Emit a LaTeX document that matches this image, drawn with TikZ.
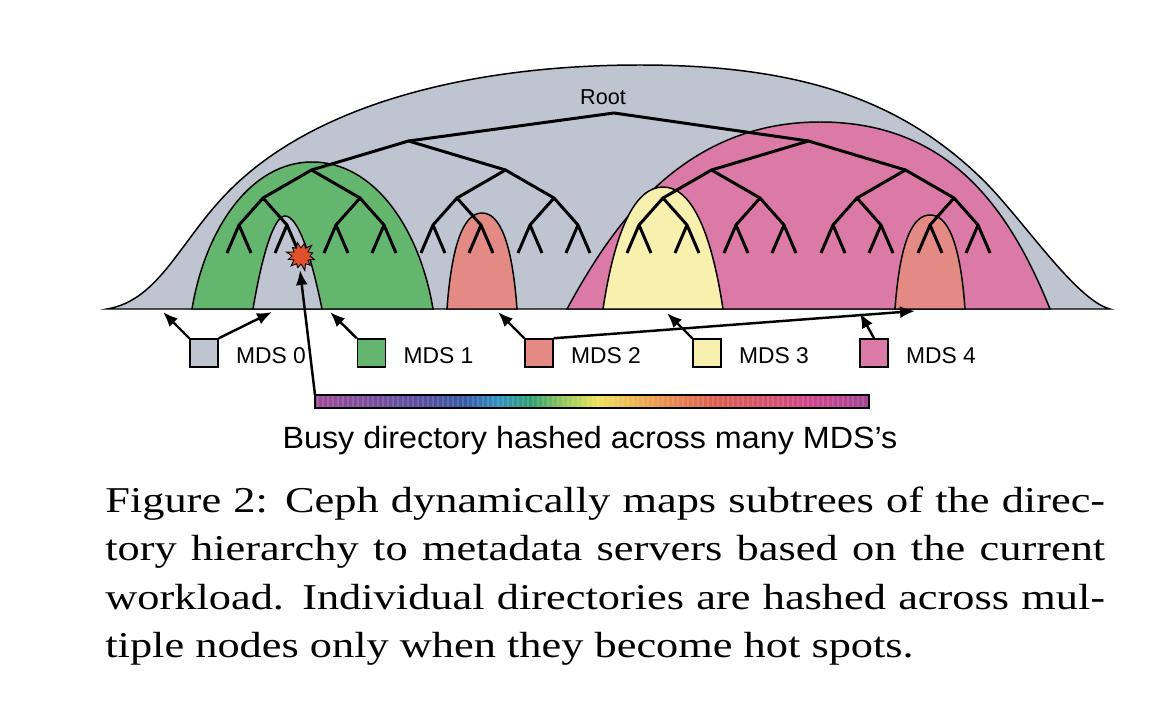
\documentclass[tikz,border=0pt]{standalone}
\usepackage{fontspec}
\setmainfont{Liberation Serif}
\setsansfont{Liberation Sans}
\newfontfamily\capfont[FakeStretch=1.22]{Liberation Serif}
\newfontfamily\busyfont[FakeStretch=1.05]{Liberation Sans}
\usetikzlibrary{positioning,arrows.meta}

\definecolor{mdsgray}{HTML}{BEC5D0}
\definecolor{mdsgreen}{HTML}{64B66E}
\definecolor{mdssalmon}{HTML}{E38A84}
\definecolor{mdsyellow}{HTML}{F7F0AE}
\definecolor{mdspink}{HTML}{DB7AA7}
\definecolor{hotred}{HTML}{E0502A}

\definecolor{hc0}{RGB}{160,75,155}
\definecolor{hc1}{RGB}{85,80,160}
\definecolor{hc2}{RGB}{55,90,165}
\definecolor{hc3}{RGB}{50,145,195}
\definecolor{hc4}{RGB}{45,160,110}
\definecolor{hc5}{RGB}{150,200,90}
\definecolor{hc6}{RGB}{240,225,90}
\definecolor{hc7}{RGB}{235,150,80}
\definecolor{hc8}{RGB}{220,95,80}
\definecolor{hc9}{RGB}{215,80,110}
\definecolor{hc10}{RGB}{205,70,140}
\definecolor{hc11}{RGB}{160,70,150}

\pgfdeclarehorizontalshading{busybar}{100bp}{color(0bp)=(hc0); color(25bp)=(hc0);
  color(35bp)=(hc1); color(38.5bp)=(hc2); color(41.5bp)=(hc3); color(44.5bp)=(hc4);
  color(47.5bp)=(hc5); color(50.5bp)=(hc6); color(56bp)=(hc7); color(61bp)=(hc8);
  color(66bp)=(hc9); color(70bp)=(hc10); color(75bp)=(hc11); color(100bp)=(hc11)}

\tikzset{
  region/.style={draw=black, line width=0.85pt},
  branch/.style={line width=1.7pt, line join=round},
  legbox/.style={draw, line width=0.85pt, minimum size=0.56cm, inner sep=0pt},
  leglabel/.style={font=\sffamily\fontsize{13}{15}\selectfont, inner sep=0pt},
  pointer/.style={line width=1.4pt, -{Latex[length=0.3cm, width=0.24cm]}},
  captext/.style={anchor=base west, inner sep=0pt, font=\capfont\fontsize{20.7}{25}\selectfont},
}

\begin{document}
\begin{tikzpicture}[x=0.02cm, y=-0.02cm]
      \useasboundingbox (0,0) rectangle (1168,726);
      \draw[region, fill=mdsgray] (107,309) .. controls (160,300) and (180,240) .. (230,190)
        .. controls (320,100) and (480,65) .. (640,65) .. controls (800,65) and (900,100) .. (980,177)
        .. controls (1020,215) and (1075,300) .. (1110,309) -- cycle;
      \draw[region, fill=mdspink] (567,309) .. controls (610,230) and (680,122) .. (820,122)
        .. controls (950,122) and (1010,210) .. (1050,309) -- cycle;
      \draw[region, fill=mdsgreen] (192,309) .. controls (205,230) and (250,162) .. (312,162)
        .. controls (375,162) and (420,230) .. (433,309) -- cycle;
      \draw[region, fill=mdsgray] (253,309) .. controls (262,255) and (274,216) .. (285,216)
        .. controls (298,216) and (311,255) .. (322,309) -- cycle;
      \draw[region, fill=mdssalmon] (447,309) .. controls (452,240) and (465,213) .. (482,213)
        .. controls (499,213) and (512,240) .. (517,309) -- cycle;
      \draw[region, fill=mdsyellow] (603,309) .. controls (615,230) and (635,187) .. (663,187)
        .. controls (691,187) and (711,230) .. (723,309) -- cycle;
      \draw[region, fill=mdssalmon] (895,309) .. controls (900,240) and (913,215) .. (930,215)
        .. controls (947,215) and (960,240) .. (965,309) -- cycle;

      \foreach \x [count=\i from 0] in {239,287,336,384,433,481,530,578,639,687,736,784,833,881,930,978} {
        \coordinate (t4-\i) at (\x,225);
        \coordinate (t5-\i-l) at (\x-12,253);
        \coordinate (t5-\i-r) at (\x+12,253);
        \draw[branch] (t5-\i-l) -- (t4-\i) -- (t5-\i-r);
      }
      \foreach \i/\x in {0/263,1/360,2/457,3/554,4/663,5/760,6/857,7/954} {
        \pgfmathtruncatemacro\a{2*\i}
        \pgfmathtruncatemacro\b{2*\i+1}
        \coordinate (t3-\i) at (\x,198);
        \draw[branch] (t4-\a) -- (t3-\i) -- (t4-\b);
      }
      \foreach \i/\x in {0/311.5,1/505.5,2/711.5,3/905.5} {
        \pgfmathtruncatemacro\a{2*\i}
        \pgfmathtruncatemacro\b{2*\i+1}
        \coordinate (t2-\i) at (\x,170);
        \draw[branch] (t3-\a) -- (t2-\i) -- (t3-\b);
      }
      \foreach \i/\x in {0/408.5,1/808.5} {
        \pgfmathtruncatemacro\a{2*\i}
        \pgfmathtruncatemacro\b{2*\i+1}
        \coordinate (t1-\i) at (\x,141);
        \draw[branch] (t2-\a) -- (t1-\i) -- (t2-\b);
      }
      \coordinate (t0) at (614,113);
      \draw[branch] (t1-0) -- (t0) -- (t1-1);
      \node[font=\sffamily\fontsize{12.3}{14}\selectfont, inner sep=0pt] (rootlabel) at (603,97) {Root};

      \draw[fill=hotred, line width=0.5pt] (301,256) +(0:9)
        \foreach \r [count=\k] in {14,8,13,9,15,8,12,9,14,8,13,9,15,8,12,9,14,8,13,9,15,8,12} { -- +({\k*15}:\r) } -- cycle;
      \coordinate (hot) at (300,270);

      \node[legbox, fill=mdsgray] (mds0) at (204,353) {};
      \node[legbox, fill=mdsgreen] (mds1) at (371.5,353) {};
      \node[legbox, fill=mdssalmon] (mds2) at (539,353) {};
      \node[legbox, fill=mdsyellow] (mds3) at (707,353) {};
      \node[legbox, fill=mdspink] (mds4) at (874,353) {};
      \node[leglabel, right=0.34cm of mds0, yshift=-0.05cm] (l0) {MDS 0};
      \node[leglabel, right=0.34cm of mds1, yshift=-0.05cm] (l1) {MDS 1};
      \node[leglabel, right=0.34cm of mds2, yshift=-0.05cm] (l2) {MDS 2};
      \node[leglabel, right=0.34cm of mds3, yshift=-0.05cm] (l3) {MDS 3};
      \node[leglabel, right=0.34cm of mds4, yshift=-0.05cm] (l4) {MDS 4};

      \coordinate (p0) at (163,312);
      \coordinate (p1) at (272,312);
      \coordinate (p2) at (330,312);
      \coordinate (p3) at (498,312);
      \coordinate (p4) at (915,311);
      \coordinate (p5) at (667,313);
      \coordinate (p6) at (860,313);
      \draw[pointer] (mds0.north west) -- (p0);
      \draw[pointer] (mds0.north east) -- (p1);
      \draw[pointer] (mds1.north west) -- (p2);
      \draw[pointer] (mds2.north west) -- (p3);
      \draw[pointer] (mds2.north east) -- (p4);
      \draw[pointer] (mds3.north west) -- (p5);
      \draw[pointer] (mds4.north) -- (p6);

      \shade[shading=busybar] (315,395) rectangle (869,408);
      \foreach \k in {0,...,109}
        \fill[white, opacity=0.13] (317+5*\k,395) rectangle (319+5*\k,408);
      \draw[line width=0.6pt] (315,395) rectangle (869,408);
      \coordinate (bar) at (315,395);
      \draw[pointer] (bar) -- (hot);
      \node[anchor=base, inner sep=0pt, font=\busyfont\fontsize{17.5}{20}\selectfont] (busy) at (590,448) {Busy directory hashed across many MDS’s};

      \node[captext] (cap1) at (105,512) {\makebox[20cm][s]{Figure 2: Ceph dynamically maps subtrees of the direc-}};
      \node[captext] (cap2) at (105,560.5) {\makebox[20cm][s]{tory hierarchy to metadata servers based on the current}};
      \node[captext] (cap3) at (105,609) {\makebox[20cm][s]{workload. Individual directories are hashed across mul-}};
      \node[captext] (cap4) at (105,657) {tiple nodes only when they become hot spots.};
    \end{tikzpicture}
\end{document}
